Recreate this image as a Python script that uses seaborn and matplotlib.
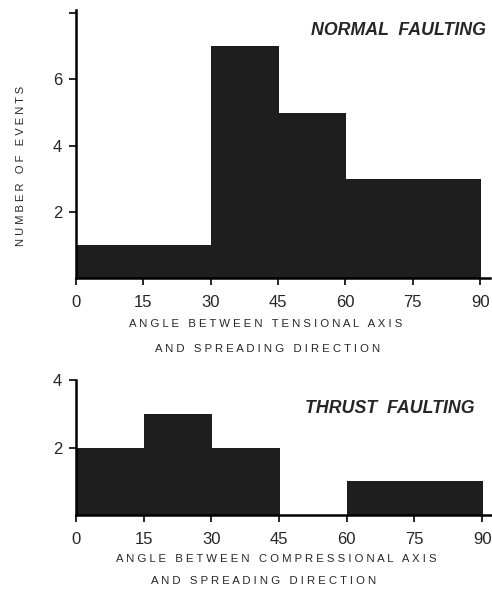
import matplotlib
matplotlib.use("Agg")
import matplotlib.pyplot as plt
import seaborn as sns
import pandas as pd

# bin edges (degrees) and event counts
bin_edges = [0, 15, 30, 45, 60, 75, 90]
bin_centers = [7.5, 22.5, 37.5, 52.5, 67.5, 82.5]
normal_counts = [1, 1, 7, 5, 3, 3]
thrust_counts = [2, 3, 2, 0, 1, 1]
x_ticks = [0, 15, 30, 45, 60, 75, 90]

sns.set_style("ticks")
plt.rcParams['font.family'] = ['Liberation Sans', 'DejaVu Sans']

bar_color = "#1e1e1e"

def spaced(s):
    # mimic the wide letter spacing of the original lettering
    return "   ".join(" ".join(w) for w in s.split())

fig = plt.figure(figsize=(4.92, 5.91), dpi=100)
ax1 = fig.add_axes([76 / 492, 1 - 278 / 591, 414 / 492, 268 / 591])
ax2 = fig.add_axes([76 / 492, 1 - 515 / 591, 416 / 492, 135 / 591])

def draw_panel(ax, counts, ylim, yticks, yticklabels, title, title_x, title_y):
    df = pd.DataFrame({"angle": bin_centers, "count": counts})
    sns.histplot(data=df, x="angle", weights="count", bins=bin_edges, ax=ax,
                 color=bar_color, edgecolor=bar_color, linewidth=0.5, alpha=1,
                 antialiased=False)
    ax.set_xlim(0, 92.2)
    ax.set_ylim(0, ylim)
    ax.set_xticks(x_ticks)
    ax.set_xticklabels([str(t) for t in x_ticks], fontsize=12)
    ax.set_yticks(yticks)
    ax.set_yticklabels(yticklabels, fontsize=12)
    ax.tick_params(axis="both", direction="out", length=5, width=1.4, pad=5)
    ax.tick_params(axis="x", pad=7)
    for s in ["top", "right"]:
        ax.spines[s].set_visible(False)
    for s in ["left", "bottom"]:
        ax.spines[s].set_linewidth(1.8)
        ax.spines[s].set_color("black")
    ax.set_ylabel("")
    ax.set_xlabel("")
    ax.text(title_x, title_y, title, transform=ax.transAxes, ha="right", va="center",
            fontsize=12.8, fontweight="bold", fontstyle="italic")

draw_panel(ax1, normal_counts, 8.1, [2, 4, 6, 8], ["2", "4", "6", ""],
           "NORMAL  FAULTING", 0.99, 0.925)
draw_panel(ax2, thrust_counts, 4, [2, 4], ["2", "4"],
           "THRUST  FAULTING", 0.958, 0.79)

label_kw = dict(ha="center", va="center", fontsize=8.2)
fig.text(266 / 492, 1 - 324 / 591, spaced("ANGLE BETWEEN TENSIONAL AXIS"), **label_kw)
fig.text(268 / 492, 1 - 349 / 591, spaced("AND SPREADING DIRECTION"), **label_kw)
fig.text(276 / 492, 1 - 559 / 591, spaced("ANGLE BETWEEN COMPRESSIONAL AXIS"), **label_kw)
fig.text(264 / 492, 1 - 581 / 591, spaced("AND SPREADING DIRECTION"), **label_kw)

fig.text(21 / 492, 1 - 166 / 591, spaced("NUMBER OF EVENTS"), rotation=90,
         ha="center", va="center", fontsize=8.0)

fig.savefig("out.png", dpi=100)
